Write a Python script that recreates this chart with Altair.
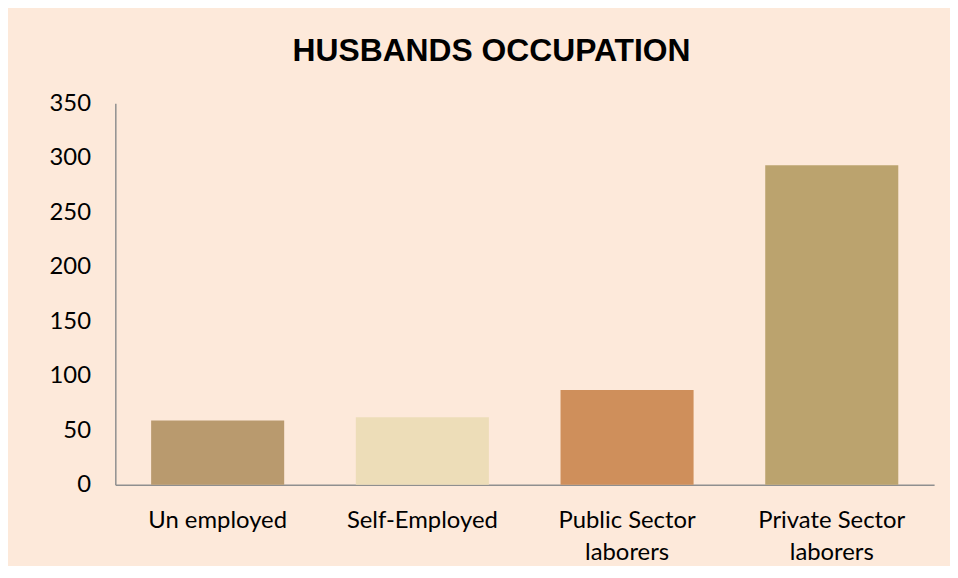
import altair as alt
import pandas as pd

categories = ["Un employed", "Self-Employed", "Public Sector laborers", "Private Sector laborers"]
counts = [59, 62, 87, 293]
bar_colors = ["#B99A6E", "#EDDDB8", "#CF8F5B", "#BBA36E"]
y_ticks = [0, 50, 100, 150, 200, 250, 300, 350]

df = pd.DataFrame({"occupation": categories, "count": counts})

label_expr = ("indexof(datum.label, ' laborers') > 0 ? "
              "[replace(datum.label, ' laborers', ''), 'laborers'] : datum.label")

chart = alt.Chart(df).mark_bar().encode(
    x=alt.X("occupation:N", sort=categories, title=None,
            scale=alt.Scale(paddingInner=0.35, paddingOuter=0.175),
            axis=alt.Axis(labelAngle=0, labelFont="Lato", labelFontSize=24,
                          labelColor="#000000", labelPadding=24, labelLineHeight=32,
                          ticks=False, tickSize=0, domainColor="#8f8f8f",
                          domainWidth=1.5, labelExpr=label_expr)),
    y=alt.Y("count:Q", title=None,
            scale=alt.Scale(domain=[0, 350], nice=False),
            axis=alt.Axis(values=y_ticks, grid=False, ticks=False, tickSize=0,
                          labelPadding=25, labelFont="Lato", labelFontSize=24,
                          labelColor="#000000", domainColor="#8f8f8f",
                          domainWidth=1.5)),
    color=alt.Color("occupation:N", scale=alt.Scale(domain=categories, range=bar_colors),
                    legend=None),
).properties(
    width=824, height=384,
    title=alt.TitleParams("HUSBANDS OCCUPATION", font="Liberation Sans", fontSize=32,
                          fontWeight="bold", color="#000000", anchor="middle",
                          frame="bounds", offset=23),
    padding={"left": 108, "top": 94, "right": 16, "bottom": 80},
    autosize=alt.AutoSizeParams(type="none"),
    background="#FDE9DA",
).configure_view(stroke=None)

chart.save("out.html", embed_options={"renderer": "svg", "actions": False})
